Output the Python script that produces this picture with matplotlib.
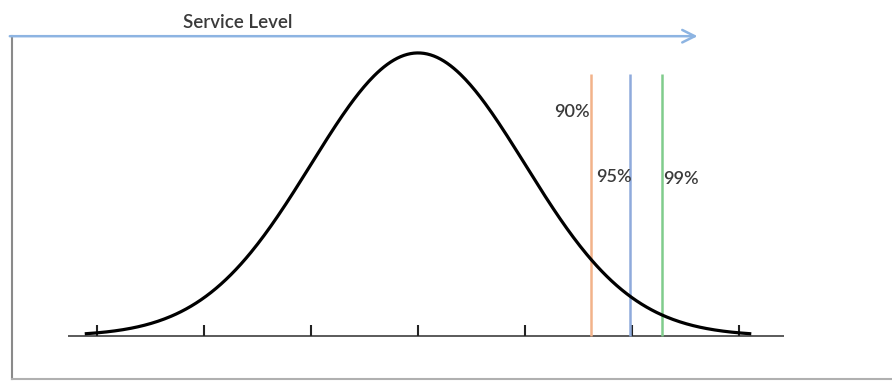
import matplotlib.pyplot as plt
import numpy as np

# distribution drawn in units of sigma, peak scaled to 1
mean = 0.0
sigma = 1.0
curve_range = (-3.1, 3.1)
tick_positions = [-3, -2, -1, 0, 1, 2, 3]

levels = ['90%', '95%', '99%']
level_pos = [1.62, 1.98, 2.28]
level_colors = ['#f2b38a', '#8faadc', '#80cc8c']
label_x = [1.44, 1.83, 2.46]
label_y = [0.79, 0.56, 0.555]

fig = plt.figure(figsize=(8.92, 3.81), dpi=100)
ax = fig.add_axes([0, 0, 1, 1])
ax.set_xlim(-3.907, 4.430)
ax.set_ylim(-0.159, 1.187)
ax.axis('off')
plt.rcParams['font.family'] = ['Lato', 'DejaVu Sans']

# baseline and ticks
ax.plot([-3.27, 3.42], [0, 0], color='#4d4d4d', linewidth=1.3, solid_capstyle='butt')
ax.vlines(tick_positions, 0, 0.038, color='#222222', linewidth=1.5)

# bell curve
z = np.linspace(curve_range[0], curve_range[1], 400)
pdf = np.exp(-0.5 * ((z - mean) / sigma) ** 2)
ax.plot(z, pdf, color='black', linewidth=2.3, zorder=4)

# service level lines
for pos, col, lab, lx, ly in zip(level_pos, level_colors, levels, label_x, label_y):
    ax.vlines(pos, 0, 0.926, color=col, linewidth=1.8, zorder=3)
    ax.text(lx, ly, lab, ha='center', va='center', fontsize=13,
            color='#3a3a3a', fontweight='semibold')

# frame (left and bottom) and the service level arrow across the top
ax.plot([0.0135, 0.0135], [0.905, 0.006], transform=ax.transAxes,
        color='#8a8a8a', linewidth=1.5, clip_on=False)
ax.plot([0.0135, 1.0], [0.006, 0.006], transform=ax.transAxes,
        color='#b0b0b0', linewidth=1.5, clip_on=False)
ax.annotate('', xy=(0.782, 0.905), xytext=(0.011, 0.905),
            xycoords='axes fraction', textcoords='axes fraction',
            arrowprops=dict(arrowstyle='->,head_length=0.9,head_width=0.45',
                            color='#8db4e2', linewidth=1.8,
                            shrinkA=0, shrinkB=0))
ax.text(0.267, 0.94, 'Service Level', transform=ax.transAxes,
        ha='center', va='center', fontsize=13.5, color='#3a3a3a',
        fontweight='semibold')

fig.savefig('out.png', dpi=100)
